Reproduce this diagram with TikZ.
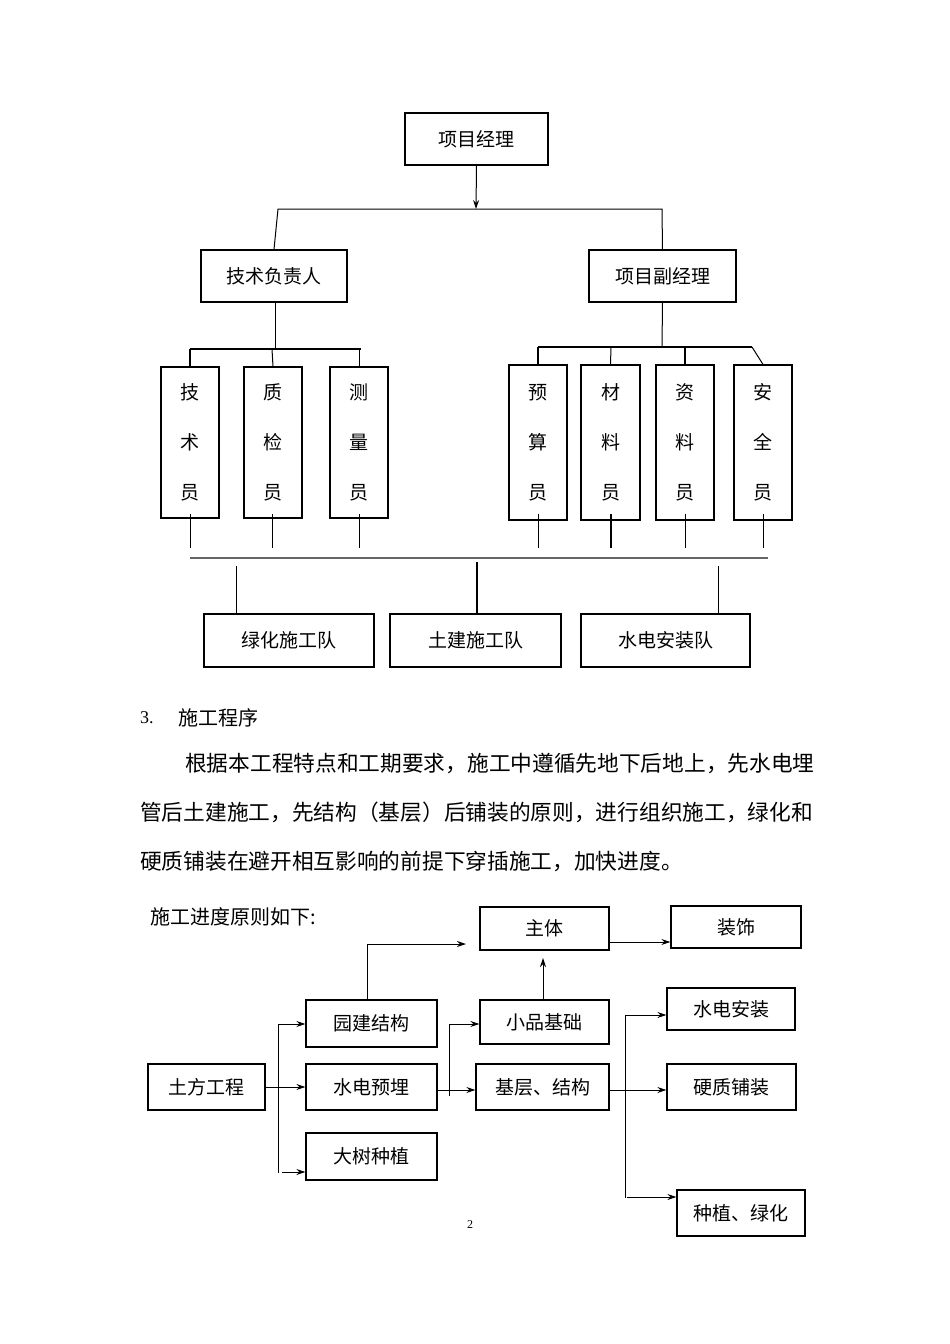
\documentclass[tikz,border=0pt]{standalone}
\usepackage{fontspec}
\setmainfont{Liberation Serif}
\newfontfamily\cjk{Noto Sans CJK SC}
\usetikzlibrary{arrows.meta}
\begin{document}
\begin{tikzpicture}[x=1pt,y=-1pt,
  bx/.style={draw,line width=1.2pt,inner sep=0pt,font=\cjk\fontsize{19}{22}\selectfont},
  vb/.style={bx,align=center,font=\cjk\fontsize{19}{50}\selectfont},
  ln/.style={line width=1pt},
  ar/.style={line width=1pt,-{Stealth[length=9pt,width=6pt]}},
  txt/.style={anchor=west,inner sep=0pt,font=\cjk\fontsize{20}{24}\selectfont}]
\useasboundingbox (0,0) rectangle (950,1344);
\newcommand{\bxat}[6]{\node[bx,minimum width=#3-#2,minimum height=#5-#4] (#1) at ({(#2+#3)/2},{(#4+#5)/2}) {#6};}
\newcommand{\vbat}[6]{\node[vb,minimum width=#3-#2,minimum height=#5-#4] (#1) at ({(#2+#3)/2},{(#4+#5)/2}) {#6};}
% org chart
\bxat{pm}{405}{548}{113}{165}{项目经理}
\bxat{tech}{201}{347}{250}{302}{技术负责人}
\bxat{dpm}{589}{736}{250}{302}{项目副经理}
\coordinate (hl) at (278,209); \coordinate (hr) at (662,209); \coordinate (hm) at (476,209);
\draw[ar] (pm.south) -- (hm);
\draw[ln] (tech.north) -- (hl) -- (hr) -- (dpm.north);
\vbat{a1}{161}{219}{367}{518}{技\\术\\员}
\vbat{a2}{244}{302}{367}{518}{质\\检\\员}
\vbat{a3}{330}{388}{367}{518}{测\\量\\员}
\vbat{b1}{509}{567}{365}{520}{预\\算\\员}
\vbat{b2}{581}{640}{365}{520}{材\\料\\员}
\vbat{b3}{656}{714}{365}{520}{资\\料\\员}
\vbat{b4}{734}{792}{365}{520}{安\\全\\员}
\draw[ln] (275,302) -- (275,349);
\draw[line width=2pt] (190,349) -- (361,349);
\draw[line width=2pt] (a1.north) -- (190,349);
\draw[ln] (a2.north) -- (272,349);
\draw[ln] (a3.north) -- (359,349);
\draw[ln] (dpm.south) -- (662,347);
\draw[line width=1.5pt] (538,347) -- (752,347);
\draw[line width=1.5pt] (b1.north) -- (538,347);
\draw[ln] (b2.north) -- (611,347);
\draw[line width=1.5pt] (b3.north) -- (685,347);
\draw[ln] (b4.north) -- (752,347);
\foreach \n/\x in {a1/190,a2/272,a3/359,b1/538,b3/685,b4/763}{\draw[line width=0.8pt] (\x,514) -- (\x,548);}
\draw[line width=2pt] (611,514) -- (611,548);
\draw[line width=2.5pt,gray!80!black] (190,558) -- (768,558);
\bxat{c1}{204}{374}{614}{667}{绿化施工队}
\bxat{c2}{390}{561}{614}{667}{土建施工队}
\bxat{c3}{581}{750}{614}{667}{水电安装队}
\draw[ln] (236,566) -- (236,614);
\draw[line width=2pt] (477,562) -- (477,614);
\draw[ln] (718,566) -- (718,614);
% text
\node[txt,font=\fontsize{18}{22}\selectfont] (t0) at (140,718) {3.};
\node[txt] (t1) at (178,718) {施工程序};
\node[txt,font=\cjk\fontsize{21.7}{24}\selectfont] (p1) at (185,763) {根据本工程特点和工期要求，施工中遵循先地下后地上，先水电埋};
\node[txt,font=\cjk\fontsize{21.7}{24}\selectfont] (p2) at (140,812) {管后土建施工，先结构（基层）后铺装的原则，进行组织施工，绿化和};
\node[txt,font=\cjk\fontsize{21.7}{24}\selectfont] (p3) at (140,861) {硬质铺装在避开相互影响的前提下穿插施工，加快进度。};
\node[txt] (p4) at (150,917) {施工进度原则如下:};
% flow chart
\bxat{zt}{480}{609}{907}{950}{主体}
\bxat{zs}{671}{801}{906}{948}{装饰}
\bxat{yj}{306}{437}{1000}{1047}{园建结构}
\bxat{xp}{480}{609}{1000}{1044}{小品基础}
\bxat{sa}{667}{795}{988}{1030}{水电安装}
\bxat{tf}{148}{265}{1064}{1110}{土方工程}
\bxat{sy}{306}{437}{1064}{1110}{水电预埋}
\bxat{jc}{476}{609}{1064}{1110}{基层、结构}
\bxat{yz}{667}{796}{1064}{1110}{硬质铺装}
\bxat{ds}{306}{437}{1133}{1180}{大树种植}
\bxat{zl}{677}{805}{1190}{1236}{种植、绿化}
\draw[ar] (yj.north -| 367,0) -- (367,944) -- (466,944);
\draw[ar] (zt.east |- 0,942) -- (zs.west |- 0,942);
\draw[ar] (xp.north -| 543,0) -- (543,958);
\draw[ln] (tf.east |- 0,1087) -- (278,1087);
\draw[ln] (278,1024) -- (278,1173);
\draw[ar] (278,1024) -- (yj.west |- 0,1024);
\draw[ar] (278,1087) -- (sy.west |- 0,1087);
\draw[ar] (282,1172) -- (ds.west |- 0,1172);
\draw[ar] (sy.east |- 0,1090) -- (jc.west |- 0,1090);
\draw[ln] (449,1096) -- (449,1024);
\draw[ar] (449,1024) -- (xp.west |- 0,1024);
\draw[ar] (jc.east |- 0,1090) -- (yz.west |- 0,1090);
\draw[ln] (625,1015) -- (625,1198);
\draw[ar] (625,1015) -- (sa.west |- 0,1015);
\draw[ar] (627,1197) -- (zl.west |- 0,1197);
\node[font=\fontsize{12}{14}\selectfont] (pg) at (470,1225) {2};
\end{tikzpicture}
\end{document}
